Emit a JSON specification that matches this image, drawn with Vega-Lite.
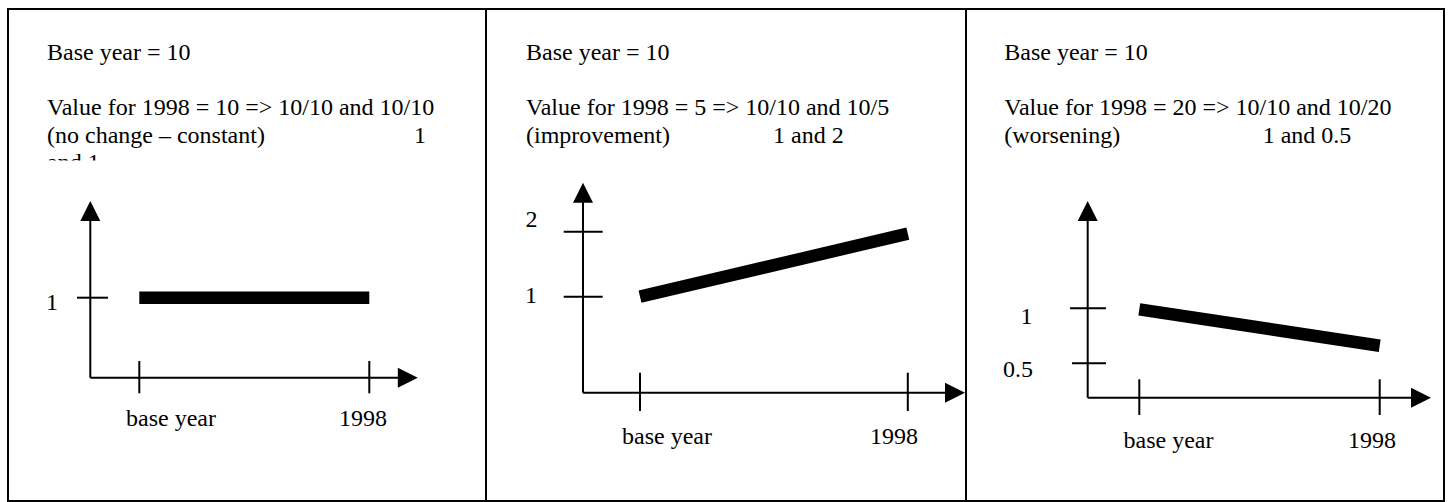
{
  "$schema": "https://vega.github.io/schema/vega-lite/v6.json",
  "background": "white",
  "padding": {"left": 7, "top": 8, "right": 0, "bottom": 0},
  "spacing": 0,
  "bounds": "flush",
  "config": {"view": {"stroke": "black", "strokeWidth": 2}, "concat": {"spacing": 0}},
  "datasets": {
    "p1": [
      {"kind": "text", "t": -0.4013, "v": 3.9675, "label": "Base year = 10"},
      {"kind": "text", "t": -0.4013, "v": 3.28375, "label": "Value for 1998 = 10 => 10/10 and 10/10"},
      {"kind": "text", "t": -0.4013, "v": 2.9375, "label": "(no change – constant)"},
      {"kind": "text", "t": 1.19435, "v": 2.9375, "label": "1"},
      {"kind": "text", "t": -0.4013, "v": 2.5925, "label": "and 1"},
      {"kind": "mask", "t": -0.4274, "t2": -0.123, "v": 2.715, "v2": 2.50875},
      {"kind": "rule", "t": -0.21304, "v": 0, "t2": -0.21304, "v2": 2.02125},
      {"kind": "rule", "t": -0.21304, "v": 0, "t2": 1.14652, "v2": 0},
      {"kind": "rule", "t": 0, "v": 0.20875, "t2": 0, "v2": -0.195},
      {"kind": "rule", "t": 1, "v": 0.20875, "t2": 1, "v2": -0.195},
      {"kind": "rule", "t": -0.27087, "v": 1, "t2": -0.13609, "v2": 1},
      {"kind": "up", "t": -0.21304, "v": 2.08375},
      {"kind": "right", "t": 1.16739, "v": 0},
      {"kind": "label", "t": -0.37957, "v": 0.84625, "label": "1"},
      {"kind": "label", "t": 0.13783, "v": -0.60375, "label": "base year"},
      {"kind": "label", "t": 0.97261, "v": -0.60375, "label": "1998"},
      {"kind": "line", "t": 0, "v": 1},
      {"kind": "line", "t": 1, "v": 1}
    ],
    "p2": [
      {"kind": "text", "t": -0.42569, "v": 4.63692, "label": "Base year = 10"},
      {"kind": "text", "t": -0.42569, "v": 3.79538, "label": "Value for 1998 = 5 => 10/10 and 10/5"},
      {"kind": "text", "t": -0.42569, "v": 3.36923, "label": "(improvement)"},
      {"kind": "text", "t": 0.49664, "v": 3.36923, "label": "1 and 2"},
      {"kind": "rule", "t": -0.21285, "v": -0.47692, "t2": -0.21285, "v2": 2.51846},
      {"kind": "rule", "t": -0.21285, "v": -0.47692, "t2": 1.16131, "v2": -0.47692},
      {"kind": "rule", "t": 0, "v": -0.16923, "t2": 0, "v2": -0.75846},
      {"kind": "rule", "t": 1, "v": -0.16923, "t2": 1, "v2": -0.75846},
      {"kind": "rule", "t": -0.28492, "v": 1, "t2": -0.13928, "v2": 1},
      {"kind": "rule", "t": -0.28492, "v": 2, "t2": -0.13928, "v2": 2},
      {"kind": "up", "t": -0.21285, "v": 2.6},
      {"kind": "right", "t": 1.17625, "v": -0.47692},
      {"kind": "label", "t": -0.40515, "v": 2.07692, "label": "2"},
      {"kind": "label", "t": -0.40702, "v": 0.90769, "label": "1"},
      {"kind": "label", "t": 0.10082, "v": -1.26154, "label": "base year"},
      {"kind": "label", "t": 0.94847, "v": -1.26154, "label": "1998"},
      {"kind": "line", "t": 0, "v": 1},
      {"kind": "line", "t": 1, "v": 1.97}
    ],
    "p3": [
      {"kind": "text", "t": -0.56156, "v": 3.25455, "label": "Base year = 10"},
      {"kind": "text", "t": -0.56156, "v": 2.75727, "label": "Value for 1998 = 20 => 10/10 and 10/20"},
      {"kind": "text", "t": -0.56156, "v": 2.50545, "label": "(worsening)"},
      {"kind": "text", "t": 0.51331, "v": 2.50545, "label": "1 and 0.5"},
      {"kind": "rule", "t": -0.21464, "v": 0.18727, "t2": -0.21464, "v2": 1.83909},
      {"kind": "rule", "t": -0.21464, "v": 0.18727, "t2": 1.151, "v2": 0.18727},
      {"kind": "rule", "t": 0, "v": 0.35455, "t2": 0, "v2": 0.03},
      {"kind": "rule", "t": 1, "v": 0.35455, "t2": 1, "v2": 0.03},
      {"kind": "rule", "t": -0.28827, "v": 1, "t2": -0.13852, "v2": 1},
      {"kind": "rule", "t": -0.27995, "v": 0.5, "t2": -0.13852, "v2": 0.5},
      {"kind": "up", "t": -0.21464, "v": 1.88455},
      {"kind": "right", "t": 1.1718, "v": 0.18727},
      {"kind": "label", "t": -0.46922, "v": 0.85455, "label": "1"},
      {"kind": "label", "t": -0.50458, "v": 0.37545, "label": "0.5"},
      {"kind": "label", "t": 0.12146, "v": -0.26727, "label": "base year"},
      {"kind": "label", "t": 0.96797, "v": -0.26727, "label": "1998"},
      {"kind": "line", "t": 0, "v": 0.99},
      {"kind": "line", "t": 1, "v": 0.66}
    ]
  },
  "hconcat": [
    {
      "width": 478, "height": 492,
      "data": {"name": "p1"},
      "encoding": {
        "x": {"field": "t", "type": "quantitative", "scale": {"domain": [-0.57087, 1.50739], "nice": false, "zero": false}, "axis": null},
        "y": {"field": "v", "type": "quantitative", "scale": {"domain": [-1.54125, 4.60875], "nice": false, "zero": false}, "axis": null}
      },
      "layer": [
        {"transform": [{"filter": "datum.kind === 'rule'"}], "mark": {"type": "rule", "color": "black", "strokeWidth": 2}, "encoding": {"x2": {"field": "t2"}, "y2": {"field": "v2"}}},
        {"transform": [{"filter": "datum.kind === 'line'"}], "mark": {"type": "line", "color": "black", "strokeWidth": 12.5, "strokeCap": "butt"}},
        {"transform": [{"filter": "datum.kind === 'up'"}], "mark": {"type": "point", "shape": "M0,-1L1,1L-1,1Z", "filled": true, "color": "black", "size": 400, "opacity": 1, "strokeWidth": 0}},
        {"transform": [{"filter": "datum.kind === 'right'"}], "mark": {"type": "point", "shape": "M1,0L-1,-1L-1,1Z", "filled": true, "color": "black", "size": 400, "opacity": 1, "strokeWidth": 0}},
        {"transform": [{"filter": "datum.kind === 'text'"}], "mark": {"type": "text", "align": "left", "baseline": "alphabetic", "font": "Liberation Serif", "fontSize": 24, "color": "black"}, "encoding": {"text": {"field": "label"}}},
        {"transform": [{"filter": "datum.kind === 'label'"}], "mark": {"type": "text", "align": "center", "baseline": "alphabetic", "font": "Liberation Serif", "fontSize": 24, "color": "black"}, "encoding": {"text": {"field": "label"}}},
        {"transform": [{"filter": "datum.kind === 'mask'"}], "mark": {"type": "rect", "color": "white"}, "encoding": {"x2": {"field": "t2"}, "y2": {"field": "v2"}}}
      ]
    },
    {
      "width": 480, "height": 492,
      "data": {"name": "p2"},
      "encoding": {
        "x": {"field": "t", "type": "quantitative", "scale": {"domain": [-0.57506, 1.21733], "nice": false, "zero": false}, "axis": null},
        "y": {"field": "v", "type": "quantitative", "scale": {"domain": [-2.14308, 5.42615], "nice": false, "zero": false}, "axis": null}
      },
      "layer": [
        {"transform": [{"filter": "datum.kind === 'rule'"}], "mark": {"type": "rule", "color": "black", "strokeWidth": 2}, "encoding": {"x2": {"field": "t2"}, "y2": {"field": "v2"}}},
        {"transform": [{"filter": "datum.kind === 'line'"}], "mark": {"type": "line", "color": "black", "strokeWidth": 12.5, "strokeCap": "butt"}},
        {"transform": [{"filter": "datum.kind === 'up'"}], "mark": {"type": "point", "shape": "M0,-1L1,1L-1,1Z", "filled": true, "color": "black", "size": 400, "opacity": 1, "strokeWidth": 0}},
        {"transform": [{"filter": "datum.kind === 'right'"}], "mark": {"type": "point", "shape": "M1,0L-1,-1L-1,1Z", "filled": true, "color": "black", "size": 400, "opacity": 1, "strokeWidth": 0}},
        {"transform": [{"filter": "datum.kind === 'text'"}], "mark": {"type": "text", "align": "left", "baseline": "alphabetic", "font": "Liberation Serif", "fontSize": 24, "color": "black"}, "encoding": {"text": {"field": "label"}}},
        {"transform": [{"filter": "datum.kind === 'label'"}], "mark": {"type": "text", "align": "center", "baseline": "alphabetic", "font": "Liberation Serif", "fontSize": 24, "color": "black"}, "encoding": {"text": {"field": "label"}}}
      ]
    },
    {
      "width": 478, "height": 492,
      "data": {"name": "p3"},
      "encoding": {
        "x": {"field": "t", "type": "quantitative", "scale": {"domain": [-0.72088, 1.26747], "nice": false, "zero": false}, "axis": null},
        "y": {"field": "v", "type": "quantitative", "scale": {"domain": [-0.75182, 3.72091], "nice": false, "zero": false}, "axis": null}
      },
      "layer": [
        {"transform": [{"filter": "datum.kind === 'rule'"}], "mark": {"type": "rule", "color": "black", "strokeWidth": 2}, "encoding": {"x2": {"field": "t2"}, "y2": {"field": "v2"}}},
        {"transform": [{"filter": "datum.kind === 'line'"}], "mark": {"type": "line", "color": "black", "strokeWidth": 12.5, "strokeCap": "butt"}},
        {"transform": [{"filter": "datum.kind === 'up'"}], "mark": {"type": "point", "shape": "M0,-1L1,1L-1,1Z", "filled": true, "color": "black", "size": 400, "opacity": 1, "strokeWidth": 0}},
        {"transform": [{"filter": "datum.kind === 'right'"}], "mark": {"type": "point", "shape": "M1,0L-1,-1L-1,1Z", "filled": true, "color": "black", "size": 400, "opacity": 1, "strokeWidth": 0}},
        {"transform": [{"filter": "datum.kind === 'text'"}], "mark": {"type": "text", "align": "left", "baseline": "alphabetic", "font": "Liberation Serif", "fontSize": 24, "color": "black"}, "encoding": {"text": {"field": "label"}}},
        {"transform": [{"filter": "datum.kind === 'label'"}], "mark": {"type": "text", "align": "center", "baseline": "alphabetic", "font": "Liberation Serif", "fontSize": 24, "color": "black"}, "encoding": {"text": {"field": "label"}}}
      ]
    }
  ]
}
